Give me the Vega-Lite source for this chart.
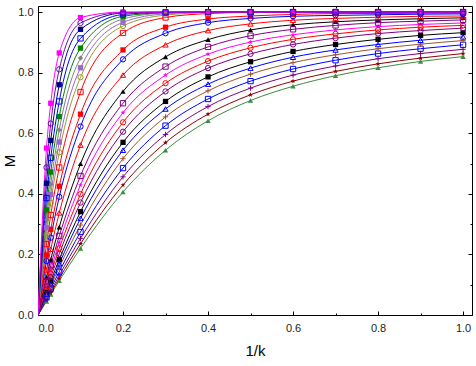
{
"$schema":"https://vega.github.io/schema/vega-lite/v6.json",
"width":434,"height":309,
"autosize":{"type":"none"},
"padding":{"left":38,"top":6,"right":4,"bottom":51},
"background":"white",
"config":{"view":{"stroke":"black","strokeWidth":1},"font":"Liberation Sans",
 "axis":{"grid":false,"domainColor":"black","tickColor":"black","labelColor":"#222","titleColor":"black","labelFontSize":11,"titleFontSize":15,"titleFontWeight":"normal","labelFont":"Liberation Sans","titleFont":"Liberation Sans"}},
"data":{"values":[
{"s":"C01","x":0,"m":0},{"s":"C01","x":0.02,"m":0.045},{"s":"C01","x":0.03,"m":0.068},{"s":"C01","x":0.05,"m":0.113},{"s":"C01","x":0.1,"m":0.22},{"s":"C01","x":0.2,"m":0.406},{"s":"C01","x":0.3,"m":0.544},{"s":"C01","x":0.4,"m":0.641},{"s":"C01","x":0.5,"m":0.708},{"s":"C01","x":0.6,"m":0.755},{"s":"C01","x":0.7,"m":0.79},{"s":"C01","x":0.8,"m":0.816},{"s":"C01","x":0.9,"m":0.837},{"s":"C01","x":1,"m":0.853},
{"s":"C02","x":0,"m":0},{"s":"C02","x":0.02,"m":0.049},{"s":"C02","x":0.03,"m":0.073},{"s":"C02","x":0.05,"m":0.121},{"s":"C02","x":0.1,"m":0.235},{"s":"C02","x":0.2,"m":0.429},{"s":"C02","x":0.3,"m":0.569},{"s":"C02","x":0.4,"m":0.663},{"s":"C02","x":0.5,"m":0.727},{"s":"C02","x":0.6,"m":0.772},{"s":"C02","x":0.7,"m":0.804},{"s":"C02","x":0.8,"m":0.829},{"s":"C02","x":0.9,"m":0.848},{"s":"C02","x":1,"m":0.863},
{"s":"C03","x":0,"m":0},{"s":"C03","x":0.02,"m":0.053},{"s":"C03","x":0.03,"m":0.079},{"s":"C03","x":0.05,"m":0.131},{"s":"C03","x":0.1,"m":0.253},{"s":"C03","x":0.2,"m":0.456},{"s":"C03","x":0.3,"m":0.596},{"s":"C03","x":0.4,"m":0.688},{"s":"C03","x":0.5,"m":0.749},{"s":"C03","x":0.6,"m":0.792},{"s":"C03","x":0.7,"m":0.822},{"s":"C03","x":0.8,"m":0.846},{"s":"C03","x":0.9,"m":0.863},{"s":"C03","x":1,"m":0.877},
{"s":"C04","x":0,"m":0},{"s":"C04","x":0.02,"m":0.058},{"s":"C04","x":0.03,"m":0.087},{"s":"C04","x":0.05,"m":0.143},{"s":"C04","x":0.1,"m":0.274},{"s":"C04","x":0.2,"m":0.485},{"s":"C04","x":0.3,"m":0.625},{"s":"C04","x":0.4,"m":0.713},{"s":"C04","x":0.5,"m":0.772},{"s":"C04","x":0.6,"m":0.812},{"s":"C04","x":0.7,"m":0.841},{"s":"C04","x":0.8,"m":0.863},{"s":"C04","x":0.9,"m":0.879},{"s":"C04","x":1,"m":0.892},
{"s":"C05","x":0,"m":0},{"s":"C05","x":0.02,"m":0.063},{"s":"C05","x":0.03,"m":0.095},{"s":"C05","x":0.05,"m":0.157},{"s":"C05","x":0.1,"m":0.297},{"s":"C05","x":0.2,"m":0.516},{"s":"C05","x":0.3,"m":0.654},{"s":"C05","x":0.4,"m":0.74},{"s":"C05","x":0.5,"m":0.795},{"s":"C05","x":0.6,"m":0.833},{"s":"C05","x":0.7,"m":0.859},{"s":"C05","x":0.8,"m":0.879},{"s":"C05","x":0.9,"m":0.894},{"s":"C05","x":1,"m":0.906},
{"s":"C06","x":0,"m":0},{"s":"C06","x":0.02,"m":0.069},{"s":"C06","x":0.03,"m":0.103},{"s":"C06","x":0.05,"m":0.169},{"s":"C06","x":0.1,"m":0.319},{"s":"C06","x":0.2,"m":0.544},{"s":"C06","x":0.3,"m":0.68},{"s":"C06","x":0.4,"m":0.762},{"s":"C06","x":0.5,"m":0.815},{"s":"C06","x":0.6,"m":0.851},{"s":"C06","x":0.7,"m":0.875},{"s":"C06","x":0.8,"m":0.893},{"s":"C06","x":0.9,"m":0.907},{"s":"C06","x":1,"m":0.918},
{"s":"C07","x":0,"m":0},{"s":"C07","x":0.02,"m":0.075},{"s":"C07","x":0.03,"m":0.112},{"s":"C07","x":0.05,"m":0.183},{"s":"C07","x":0.1,"m":0.341},{"s":"C07","x":0.2,"m":0.57},{"s":"C07","x":0.3,"m":0.705},{"s":"C07","x":0.4,"m":0.786},{"s":"C07","x":0.5,"m":0.836},{"s":"C07","x":0.6,"m":0.87},{"s":"C07","x":0.7,"m":0.893},{"s":"C07","x":0.8,"m":0.91},{"s":"C07","x":0.9,"m":0.923},{"s":"C07","x":1,"m":0.932},
{"s":"C08","x":0,"m":0},{"s":"C08","x":0.02,"m":0.084},{"s":"C08","x":0.03,"m":0.125},{"s":"C08","x":0.05,"m":0.202},{"s":"C08","x":0.1,"m":0.371},{"s":"C08","x":0.2,"m":0.605},{"s":"C08","x":0.3,"m":0.738},{"s":"C08","x":0.4,"m":0.815},{"s":"C08","x":0.5,"m":0.862},{"s":"C08","x":0.6,"m":0.893},{"s":"C08","x":0.7,"m":0.914},{"s":"C08","x":0.8,"m":0.929},{"s":"C08","x":0.9,"m":0.939},{"s":"C08","x":1,"m":0.947},
{"s":"C09","x":0,"m":0},{"s":"C09","x":0.02,"m":0.092},{"s":"C09","x":0.03,"m":0.137},{"s":"C09","x":0.05,"m":0.22},{"s":"C09","x":0.1,"m":0.399},{"s":"C09","x":0.2,"m":0.636},{"s":"C09","x":0.3,"m":0.765},{"s":"C09","x":0.4,"m":0.838},{"s":"C09","x":0.5,"m":0.882},{"s":"C09","x":0.6,"m":0.91},{"s":"C09","x":0.7,"m":0.928},{"s":"C09","x":0.8,"m":0.941},{"s":"C09","x":0.9,"m":0.95},{"s":"C09","x":1,"m":0.956},
{"s":"C10","x":0,"m":0},{"s":"C10","x":0.02,"m":0.101},{"s":"C10","x":0.03,"m":0.149},{"s":"C10","x":0.05,"m":0.24},{"s":"C10","x":0.1,"m":0.429},{"s":"C10","x":0.2,"m":0.668},{"s":"C10","x":0.3,"m":0.792},{"s":"C10","x":0.4,"m":0.861},{"s":"C10","x":0.5,"m":0.901},{"s":"C10","x":0.6,"m":0.925},{"s":"C10","x":0.7,"m":0.941},{"s":"C10","x":0.8,"m":0.952},{"s":"C10","x":0.9,"m":0.959},{"s":"C10","x":1,"m":0.964},
{"s":"C11","x":0,"m":0},{"s":"C11","x":0.02,"m":0.111},{"s":"C11","x":0.03,"m":0.164},{"s":"C11","x":0.05,"m":0.261},{"s":"C11","x":0.1,"m":0.459},{"s":"C11","x":0.2,"m":0.699},{"s":"C11","x":0.3,"m":0.82},{"s":"C11","x":0.4,"m":0.885},{"s":"C11","x":0.5,"m":0.922},{"s":"C11","x":0.6,"m":0.943},{"s":"C11","x":0.7,"m":0.956},{"s":"C11","x":0.8,"m":0.965},{"s":"C11","x":0.9,"m":0.97},{"s":"C11","x":1,"m":0.974},
{"s":"C12","x":0,"m":0},{"s":"C12","x":0.02,"m":0.125},{"s":"C12","x":0.03,"m":0.183},{"s":"C12","x":0.05,"m":0.29},{"s":"C12","x":0.1,"m":0.499},{"s":"C12","x":0.2,"m":0.738},{"s":"C12","x":0.3,"m":0.852},{"s":"C12","x":0.4,"m":0.909},{"s":"C12","x":0.5,"m":0.941},{"s":"C12","x":0.6,"m":0.958},{"s":"C12","x":0.7,"m":0.968},{"s":"C12","x":0.8,"m":0.974},{"s":"C12","x":0.9,"m":0.978},{"s":"C12","x":1,"m":0.981},
{"s":"C13","x":0,"m":0},{"s":"C13","x":0.02,"m":0.149},{"s":"C13","x":0.03,"m":0.217},{"s":"C13","x":0.05,"m":0.337},{"s":"C13","x":0.1,"m":0.561},{"s":"C13","x":0.2,"m":0.792},{"s":"C13","x":0.3,"m":0.892},{"s":"C13","x":0.4,"m":0.939},{"s":"C13","x":0.5,"m":0.961},{"s":"C13","x":0.6,"m":0.973},{"s":"C13","x":0.7,"m":0.979},{"s":"C13","x":0.8,"m":0.983},{"s":"C13","x":0.9,"m":0.986},{"s":"C13","x":1,"m":0.987},
{"s":"C14","x":0,"m":0},{"s":"C14","x":0.02,"m":0.178},{"s":"C14","x":0.03,"m":0.255},{"s":"C14","x":0.05,"m":0.39},{"s":"C14","x":0.1,"m":0.622},{"s":"C14","x":0.2,"m":0.844},{"s":"C14","x":0.3,"m":0.93},{"s":"C14","x":0.4,"m":0.965},{"s":"C14","x":0.5,"m":0.979},{"s":"C14","x":0.6,"m":0.986},{"s":"C14","x":0.7,"m":0.989},{"s":"C14","x":0.8,"m":0.991},{"s":"C14","x":0.9,"m":0.993},{"s":"C14","x":1,"m":0.994},
{"s":"C15","x":0,"m":0},{"s":"C15","x":0.02,"m":0.198},{"s":"C15","x":0.03,"m":0.283},{"s":"C15","x":0.05,"m":0.425},{"s":"C15","x":0.1,"m":0.663},{"s":"C15","x":0.2,"m":0.875},{"s":"C15","x":0.3,"m":0.95},{"s":"C15","x":0.4,"m":0.977},{"s":"C15","x":0.5,"m":0.987},{"s":"C15","x":0.6,"m":0.992},{"s":"C15","x":0.7,"m":0.995},{"s":"C15","x":0.8,"m":0.995},{"s":"C15","x":0.9,"m":0.996},{"s":"C15","x":1,"m":0.996},
{"s":"C16","x":0,"m":0},{"s":"C16","x":0.02,"m":0.234},{"s":"C16","x":0.03,"m":0.33},{"s":"C16","x":0.05,"m":0.487},{"s":"C16","x":0.1,"m":0.736},{"s":"C16","x":0.2,"m":0.931},{"s":"C16","x":0.3,"m":0.982},{"s":"C16","x":0.4,"m":0.995},{"s":"C16","x":0.5,"m":0.999},{"s":"C16","x":0.6,"m":1},{"s":"C16","x":0.7,"m":1},{"s":"C16","x":0.8,"m":1},{"s":"C16","x":0.9,"m":1},{"s":"C16","x":1,"m":1},
{"s":"C17","x":0,"m":0},{"s":"C17","x":0.02,"m":0.265},{"s":"C17","x":0.03,"m":0.37},{"s":"C17","x":0.05,"m":0.537},{"s":"C17","x":0.1,"m":0.785},{"s":"C17","x":0.2,"m":0.954},{"s":"C17","x":0.3,"m":0.99},{"s":"C17","x":0.4,"m":0.998},{"s":"C17","x":0.5,"m":1},{"s":"C17","x":0.6,"m":1},{"s":"C17","x":0.7,"m":1},{"s":"C17","x":0.8,"m":1},{"s":"C17","x":0.9,"m":1},{"s":"C17","x":1,"m":1},
{"s":"C18","x":0,"m":0},{"s":"C18","x":0.02,"m":0.288},{"s":"C18","x":0.03,"m":0.398},{"s":"C18","x":0.05,"m":0.571},{"s":"C18","x":0.1,"m":0.816},{"s":"C18","x":0.2,"m":0.966},{"s":"C18","x":0.3,"m":0.994},{"s":"C18","x":0.4,"m":0.999},{"s":"C18","x":0.5,"m":1},{"s":"C18","x":0.6,"m":1},{"s":"C18","x":0.7,"m":1},{"s":"C18","x":0.8,"m":1},{"s":"C18","x":0.9,"m":1},{"s":"C18","x":1,"m":1},
{"s":"C19","x":0,"m":0},{"s":"C19","x":0.02,"m":0.314},{"s":"C19","x":0.03,"m":0.432},{"s":"C19","x":0.05,"m":0.611},{"s":"C19","x":0.1,"m":0.848},{"s":"C19","x":0.2,"m":0.977},{"s":"C19","x":0.3,"m":0.997},{"s":"C19","x":0.4,"m":1},{"s":"C19","x":0.5,"m":1},{"s":"C19","x":0.6,"m":1},{"s":"C19","x":0.7,"m":1},{"s":"C19","x":0.8,"m":1},{"s":"C19","x":0.9,"m":1},{"s":"C19","x":1,"m":1},
{"s":"C20","x":0,"m":0},{"s":"C20","x":0.02,"m":0.347},{"s":"C20","x":0.03,"m":0.472},{"s":"C20","x":0.05,"m":0.655},{"s":"C20","x":0.1,"m":0.881},{"s":"C20","x":0.2,"m":0.986},{"s":"C20","x":0.3,"m":0.998},{"s":"C20","x":0.4,"m":1},{"s":"C20","x":0.5,"m":1},{"s":"C20","x":0.6,"m":1},{"s":"C20","x":0.7,"m":1},{"s":"C20","x":0.8,"m":1},{"s":"C20","x":0.9,"m":1},{"s":"C20","x":1,"m":1},
{"s":"C21","x":0,"m":0},{"s":"C21","x":0.02,"m":0.386},{"s":"C21","x":0.03,"m":0.519},{"s":"C21","x":0.05,"m":0.705},{"s":"C21","x":0.1,"m":0.913},{"s":"C21","x":0.2,"m":0.992},{"s":"C21","x":0.3,"m":0.999},{"s":"C21","x":0.4,"m":1},{"s":"C21","x":0.5,"m":1},{"s":"C21","x":0.6,"m":1},{"s":"C21","x":0.7,"m":1},{"s":"C21","x":0.8,"m":1},{"s":"C21","x":0.9,"m":1},{"s":"C21","x":1,"m":1},
{"s":"C22","x":0,"m":0},{"s":"C22","x":0.02,"m":0.435},{"s":"C22","x":0.03,"m":0.576},{"s":"C22","x":0.05,"m":0.76},{"s":"C22","x":0.1,"m":0.943},{"s":"C22","x":0.2,"m":0.997},{"s":"C22","x":0.3,"m":1},{"s":"C22","x":0.4,"m":1},{"s":"C22","x":0.5,"m":1},{"s":"C22","x":0.6,"m":1},{"s":"C22","x":0.7,"m":1},{"s":"C22","x":0.8,"m":1},{"s":"C22","x":0.9,"m":1},{"s":"C22","x":1,"m":1},
{"s":"C23","x":0,"m":0},{"s":"C23","x":0.02,"m":0.487},{"s":"C23","x":0.03,"m":0.632},{"s":"C23","x":0.05,"m":0.811},{"s":"C23","x":0.1,"m":0.964},{"s":"C23","x":0.2,"m":0.999},{"s":"C23","x":0.3,"m":1},{"s":"C23","x":0.4,"m":1},{"s":"C23","x":0.5,"m":1},{"s":"C23","x":0.6,"m":1},{"s":"C23","x":0.7,"m":1},{"s":"C23","x":0.8,"m":1},{"s":"C23","x":0.9,"m":1},{"s":"C23","x":1,"m":1},
{"s":"C24","x":0,"m":0},{"s":"C24","x":0.02,"m":0.551},{"s":"C24","x":0.03,"m":0.699},{"s":"C24","x":0.05,"m":0.865},{"s":"C24","x":0.1,"m":0.982},{"s":"C24","x":0.2,"m":1},{"s":"C24","x":0.3,"m":1},{"s":"C24","x":0.4,"m":1},{"s":"C24","x":0.5,"m":1},{"s":"C24","x":0.6,"m":1},{"s":"C24","x":0.7,"m":1},{"s":"C24","x":0.8,"m":1},{"s":"C24","x":0.9,"m":1},{"s":"C24","x":1,"m":1}
]},
"resolve":{"axis":{"x":"independent","y":"independent"}},
"layer":[
{"mark":{"type":"line","interpolate":"monotone","strokeWidth":1,"clip":true},
 "encoding":{
  "x":{"field":"x","type":"quantitative","scale":{"domain":[0,1.021],"nice":false,"zero":false},
   "axis":{"title":"1/k","values":[0,0.1,0.2,0.3,0.4,0.5,0.6,0.7,0.8,0.9,1],"labelExpr":"round(datum.value*10)%2==1?'':format(datum.value,'.1f')","tickSize":{"condition":{"test":"round(datum.value*10)%2==1","value":-2},"value":-4},"labelPadding":11,"titlePadding":10,"domain":false}},
  "y":{"field":"m","type":"quantitative","scale":{"domain":[0,1.02],"nice":false},
   "axis":{"title":"M","values":[0,0.1,0.2,0.3,0.4,0.5,0.6,0.7,0.8,0.9,1],"labelExpr":"round(datum.value*10)%2==1?'':format(datum.value,'.1f')","tickSize":{"condition":{"test":"round(datum.value*10)%2==1","value":-2},"value":-4},"labelPadding":9,"titlePadding":0,"domain":false}},
  "color":{"field":"s","type":"nominal","legend":null,
   "scale":{"domain":["C01","C02","C03","C04","C05","C06","C07","C08","C09","C10","C11","C12","C13","C14","C15","C16","C17","C18","C19","C20","C21","C22","C23","C24"],
    "range":["#3c8c3c","#8b0000","#800080","#0000ff","#a0522d","#0000ff","#000000","#800080","#ff0000","#ff00ff","#800080","#000000","#ff0000","#0000ff","#ff0000","#ff0000","#999933","#9966cc","#808080","#008000","#0000ff","#000080","#6a0dad","#ff00ff"]}},
  "detail":{"field":"s"}
 }},
{"transform":[{"filter":"datum.x>0"},{"filter":{"field":"s","oneOf":["C01","C02","C07","C10","C12","C15","C18","C19","C20","C22","C24"]}}],
 "mark":{"type":"point","filled":true,"size":28,"opacity":1,"clip":true},
 "encoding":{
  "x":{"field":"x","type":"quantitative","axis":null},
  "y":{"field":"m","type":"quantitative","axis":null},
  "color":{"field":"s","type":"nominal","legend":null},
  "shape":{"field":"s","type":"nominal","legend":null,
   "scale":{"domain":["C01","C02","C03","C04","C05","C06","C07","C08","C09","C10","C11","C12","C13","C14","C15","C16","C17","C18","C19","C20","C21","C22","C23","C24"],
    "range":["triangle-up","M0,-1L0.24,-0.33L0.95,-0.31L0.38,0.12L0.59,0.81L0,0.4L-0.59,0.81L-0.38,0.12L-0.95,-0.31L-0.24,-0.33Z","M-1,0H1M0,-1V1","square","M-1,0H1M0,-1V1","triangle-up","square","circle","circle","M0,-1L0.24,-0.33L0.95,-0.31L0.38,0.12L0.59,0.81L0,0.4L-0.59,0.81L-0.38,0.12L-0.95,-0.31L-0.24,-0.33Z","square","triangle-up","triangle-up","circle","square","square","circle","square","diamond","square","square","square","circle","square"]}}
 }},
{"transform":[{"filter":"datum.x>0"},{"filter":{"field":"s","oneOf":["C03","C04","C05","C06","C08","C09","C11","C13","C14","C16","C17","C21","C23"]}}],
 "mark":{"type":"point","filled":false,"size":28,"strokeWidth":1,"opacity":1,"clip":true},
 "encoding":{
  "x":{"field":"x","type":"quantitative","axis":null},
  "y":{"field":"m","type":"quantitative","axis":null},
  "color":{"field":"s","type":"nominal","legend":null},
  "shape":{"field":"s","type":"nominal","legend":null}
 }},
{"mark":{"type":"point","opacity":0},
 "encoding":{
  "x":{"field":"x","type":"quantitative","axis":{"orient":"top","title":null,"labels":false,"domain":false,"values":[0,0.1,0.2,0.3,0.4,0.5,0.6,0.7,0.8,0.9,1],"tickSize":{"condition":{"test":"round(datum.value*10)%2==1","value":-2},"value":-4}}},
  "y":{"field":"m","type":"quantitative","axis":{"orient":"right","title":null,"labels":false,"domain":false,"values":[0,0.1,0.2,0.3,0.4,0.5,0.6,0.7,0.8,0.9,1],"tickSize":{"condition":{"test":"round(datum.value*10)%2==1","value":-2},"value":-4}}}
 }}
]
}
